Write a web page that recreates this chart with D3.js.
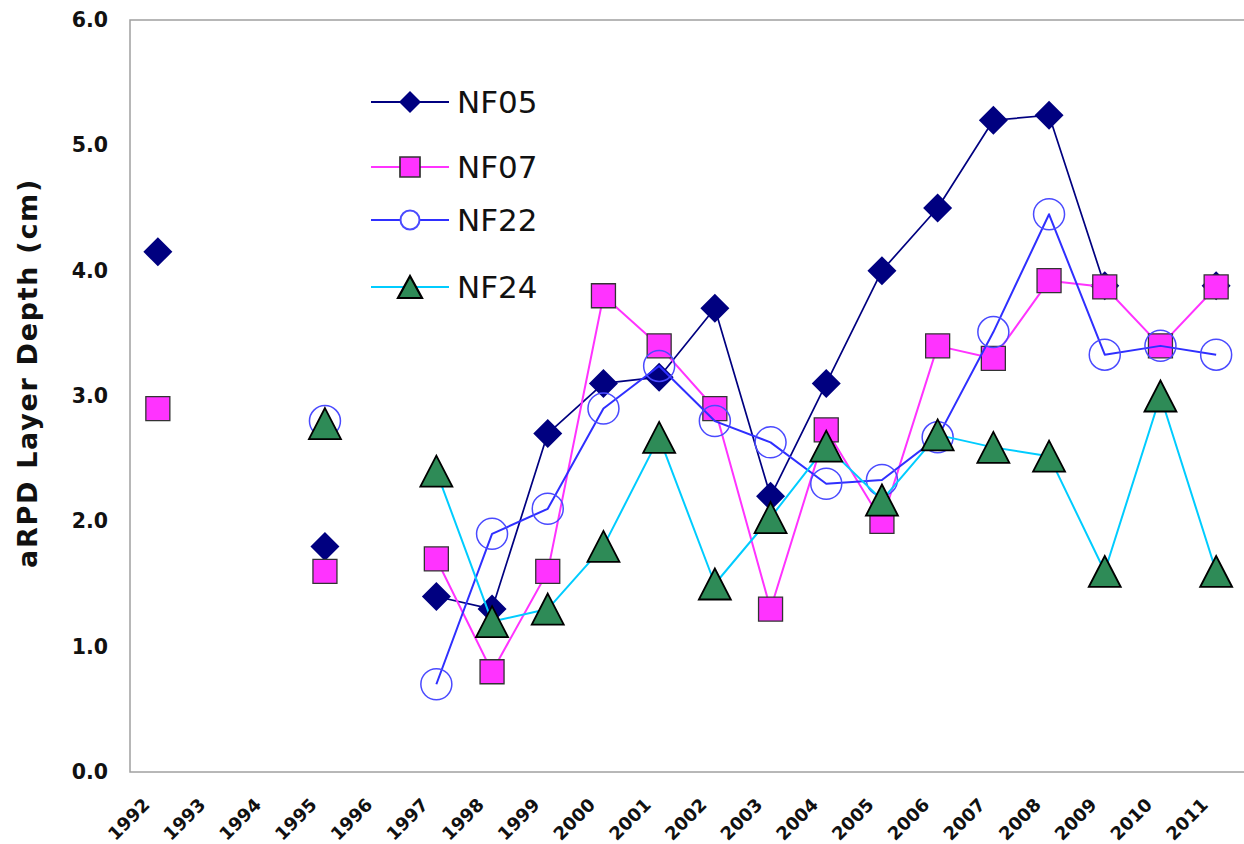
<!DOCTYPE html>
<html>
<head>
<meta charset="utf-8">
<script src="https://cdn.jsdelivr.net/npm/d3@7"></script>
<style>
  html, body { margin: 0; padding: 0; background: #fff; }
  svg { display: block; }
</style>
</head>
<body>
<svg id="chart" width="1244" height="844"></svg>
<script>
// ---- data ----
const years = ["1992","1993","1994","1995","1996","1997","1998","1999","2000","2001",
               "2002","2003","2004","2005","2006","2007","2008","2009","2010","2011"];
const nf05 = [4.15, null, null, 1.8, null, 1.4, 1.3, 2.7, 3.1, 3.15, 3.7, 2.2, 3.1, 4.0, 4.5, 5.2, 5.24, 3.88, null, 3.88];
const nf07 = [2.9, null, null, 1.6, null, 1.7, 0.8, 1.6, 3.8, 3.4, 2.9, 1.3, 2.73, 2.0, 3.4, 3.3, 3.92, 3.87, 3.4, 3.87];
const nf22 = [null, null, null, 2.8, null, 0.7, 1.9, 2.1, 2.9, 3.24, 2.8, 2.63, 2.3, 2.33, 2.67, 3.51, 4.45, 3.33, 3.4, 3.33];
const nf24 = [null, null, null, 2.78, null, 2.4, 1.2, 1.3, 1.8, 2.67, 1.5, 2.03, 2.6, 2.17, 2.69, 2.59, 2.52, 1.6, 3.0, 1.6];
const seriesNames = ["NF05", "NF07", "NF22", "NF24"];
const yTicks = [0, 1, 2, 3, 4, 5, 6];
const yTitle = "aRPD Layer Depth (cm)";

(function () {
// ---- layout ----
const svg = d3.select("#chart");
const pLeft = 130, pRight = 1246, pTop = 20, pBottom = 772;

const x = d3.scaleBand().domain(years).range([pLeft, pRight - 2]).paddingInner(0).paddingOuter(0);
const y = d3.scaleLinear().domain([0, 6]).range([pBottom, pTop]);
const cx = d => x(d) + x.bandwidth() / 2;

// frame
svg.append("rect")
  .attr("x", pLeft).attr("y", pTop)
  .attr("width", pRight - pLeft).attr("height", pBottom - pTop)
  .attr("fill", "none").attr("stroke", "#a0a0a0").attr("stroke-width", 1.5);

// y axis labels
const yAxis = d3.axisLeft(y).tickValues(yTicks).tickFormat(d3.format(".1f")).tickSize(0).tickPadding(22);
const gy = svg.append("g").attr("transform", `translate(${pLeft},0)`).call(yAxis);
gy.select(".domain").remove();
gy.selectAll("text")
  .attr("font-family", "DejaVu Sans, Verdana, sans-serif")
  .attr("font-weight", "bold").attr("font-size", 20.5).attr("fill", "#111");

// x axis labels
const xAxis = d3.axisBottom(x).tickSize(0).tickPadding(0);
const gx = svg.append("g").attr("transform", `translate(0,${pBottom})`).call(xAxis);
gx.select(".domain").remove();
gx.selectAll(".tick text")
  .attr("font-family", "DejaVu Sans, Verdana, sans-serif")
  .attr("font-weight", "bold").attr("font-size", 18).attr("fill", "#111")
  .attr("text-anchor", "end")
  .attr("y", 0).attr("dy", 0)
  .attr("transform", "translate(-7,34) rotate(-45)");

// y title
svg.append("text")
  .attr("transform", `translate(37,${(178 + 568) / 2}) rotate(-90)`)
  .attr("text-anchor", "middle")
  .attr("font-family", "DejaVu Sans, Verdana, sans-serif")
  .attr("font-weight", "bold").attr("font-size", 27)
  .attr("letter-spacing", 1.7)
  .attr("fill", "#111")
  .text(yTitle);

// ---- marker shapes ----
const diamond = s => `M0,${-s}L${s},0L0,${s}L${-s},0Z`;
const square = s => `M${-s},${-s}H${s}V${s}H${-s}Z`;
const triangle = (w, h) => `M0,${-h/2}L${w/2},${h/2}L${-w/2},${h/2}Z`;

const styles = [
  { values: nf05, line: "#000080", lw: 1.7, marker: diamond(14.5), lmarker: diamond(11), fill: "#000080", stroke: "none", sw: 0 },
  { values: nf07, line: "#ff33ff", lw: 2, marker: square(12), lmarker: square(10), fill: "#ff33ff", stroke: "#333", sw: 1.3 },
  { values: nf22, line: "#2f2fff", lw: 2, circle: 15.5, lcircle: 9.5, fill: "none", stroke: "#4a4aff", sw: 1.5 },
  { values: nf24, line: "#00ccff", lw: 2, marker: triangle(32, 31), lmarker: triangle(24, 22), fill: "#2e8b57", stroke: "#000", sw: 1.8 }
];

const plot = svg.append("g");
styles.forEach((s, i) => {
  const pts = years.map((yr, k) => ({ yr, v: s.values[k] }));
  const line = d3.line().defined(d => d.v != null).x(d => cx(d.yr)).y(d => y(d.v));
  plot.append("path").datum(pts)
    .attr("d", line).attr("fill", "none")
    .attr("stroke", s.line).attr("stroke-width", s.lw).attr("stroke-linejoin", "round");
  const valid = pts.filter(d => d.v != null);
  if (s.circle) {
    plot.selectAll(null).data(valid).enter().append("circle")
      .attr("cx", d => cx(d.yr)).attr("cy", d => y(d.v)).attr("r", s.circle)
      .attr("fill", s.fill).attr("stroke", s.stroke).attr("stroke-width", s.sw);
  } else {
    plot.selectAll(null).data(valid).enter().append("path")
      .attr("transform", d => `translate(${cx(d.yr)},${y(d.v)})`)
      .attr("d", s.marker)
      .attr("fill", s.fill).attr("stroke", s.stroke).attr("stroke-width", s.sw);
  }
});

// ---- legend ----
const legendY = [102, 167, 220, 287];
const legend = svg.append("g");
styles.forEach((s, i) => {
  const g = legend.append("g").attr("transform", `translate(0,${legendY[i]})`);
  g.append("line").attr("x1", 371).attr("x2", 449).attr("y1", 0).attr("y2", 0)
    .attr("stroke", s.line).attr("stroke-width", 2);
  if (s.lcircle) {
    g.append("circle").attr("cx", 410).attr("cy", 0).attr("r", s.lcircle)
      .attr("fill", "#fff").attr("stroke", s.stroke).attr("stroke-width", 2);
  } else {
    g.append("path").attr("transform", "translate(410,0)").attr("d", s.lmarker)
      .attr("fill", s.fill).attr("stroke", s.stroke).attr("stroke-width", s.sw + 0.4);
  }
  g.append("text").attr("x", 457).attr("y", 0).attr("dy", "0.36em")
    .attr("font-family", "DejaVu Sans, Verdana, sans-serif")
    .attr("font-size", 31).attr("fill", "#111")
    .text(seriesNames[i]);
});
})();
</script>
</body>
</html>
